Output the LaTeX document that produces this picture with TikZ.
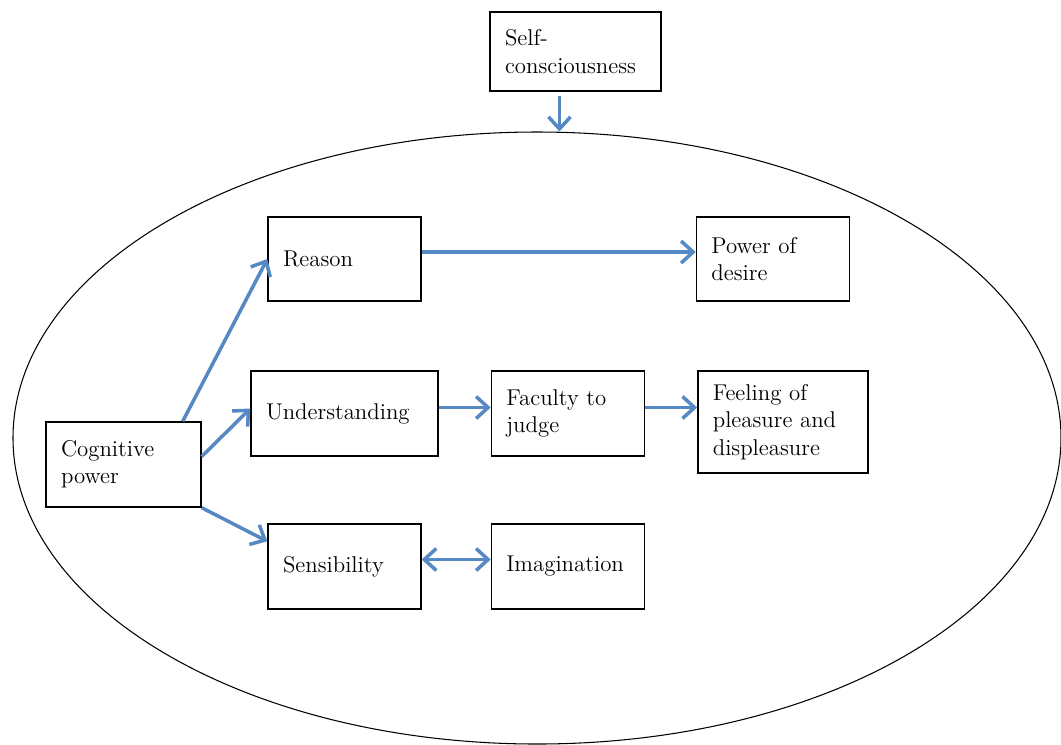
\documentclass[tikz,border=0pt]{standalone}
\usepackage{tikz}
\usetikzlibrary{arrows.meta}
\usetikzlibrary{positioning}
\usetikzlibrary{shapes.geometric}

\definecolor{arrowblue}{RGB}{86,136,196}

\begin{document}
\begin{tikzpicture}[->,>={Straight Barb[length=2.4mm,width=4.4mm]},node distance = 1.04cm,font=\fontsize{13}{15.5}\selectfont]
\tikzstyle{box}=[draw,line width=0.8pt,align=left,inner xsep=0.3cm,text width=2.46cm,minimum height=1.7cm,-]
\tikzstyle{link}=[color=arrowblue,line width=2pt]
\useasboundingbox (0,0) rectangle (21.22,-14.88);
\node[ellipse,draw,line width=0.6pt,minimum width=20.96cm,minimum height=12.24cm,inner sep=0pt,-]	(mind)	at (10.74,-8.76)	{};
\node[box,text width=2.82cm,minimum height=1.58cm]	(self)	at (11.51,-1.03)	{Self-\\consciousness};
\node[box,text width=2.5cm]	(cognitive)	at (2.47,-9.29)	{Cognitive\\power};
\node[box,minimum height=1.68cm]	(reason)	at (6.89,-5.18)	{Reason};
\node[box,minimum height=1.68cm]	(desire)	[right=5.48cm of reason]	{Power of\\desire};
\node[box,text width=3.14cm]	(understanding)	at (6.89,-8.27)	{Understanding};
\node[box]	(faculty)	[right= of understanding]	{Faculty to\\judge};
\node[box,text width=2.8cm,minimum height=2.04cm]	(feeling)	[right= of faculty.north east,anchor=north west]	{Feeling of\\pleasure and\\displeasure};
\node[box]	(sensibility)	at (6.89,-11.33)	{Sensibility};
\node[box]	(imagination)	[right=1.38cm of sensibility]	{Imagination};

\path[link]([xshift=-0.32cm,yshift=-0.08cm]self.south)	edge	([xshift=-0.32cm]self.south |- mind.north)
	 ([xshift=-0.38cm]cognitive.north east)	edge	(reason.west)
	 ([yshift=0.16cm]cognitive.east)	edge	([yshift=0.1cm]understanding.west)
	 (cognitive.south east)	edge	([yshift=-0.36cm]sensibility.north west)
	 ([yshift=0.14cm]reason.east)	edge	([yshift=0.14cm]desire.west)
	 ([yshift=0.12cm]understanding.east)	edge	([yshift=0.12cm]faculty.west)
	 ([yshift=0.12cm]faculty.east)	edge	([yshift=0.12cm]faculty.east -| feeling.west)
	 ([yshift=0.14cm]sensibility.east)	edge[<->]	([yshift=0.14cm]imagination.west);
\end{tikzpicture}
\end{document}
